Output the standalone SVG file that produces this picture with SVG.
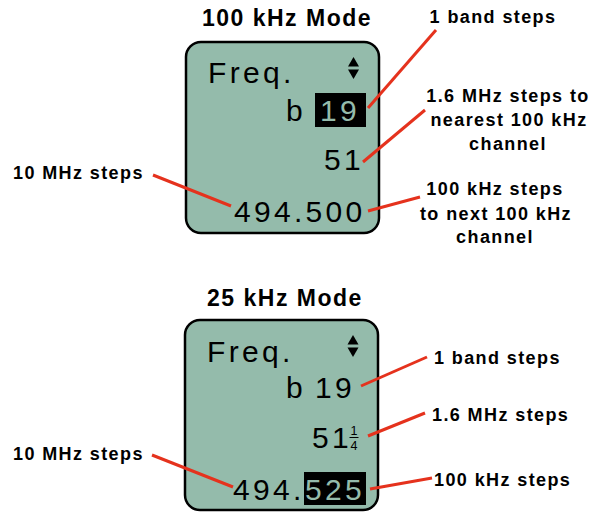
<svg xmlns="http://www.w3.org/2000/svg" width="602" height="512" viewBox="0 0 602 512">
<style>
.title{font-family:"Liberation Sans",Arial,sans-serif;font-weight:bold;font-size:23px;letter-spacing:1.5px;fill:#000;text-anchor:middle}
.lbl{font-family:"Liberation Sans",Arial,sans-serif;font-weight:bold;font-size:18px;letter-spacing:1.4px;fill:#000}
.mid{text-anchor:middle}
.lcd{font-family:"Liberation Sans",Arial,sans-serif;font-size:30px;letter-spacing:3.3px;fill:#000}
.inv{fill:#94bbab}
.box{fill:#94bbab;stroke:#000;stroke-width:2.5}
.frac{font-family:"Liberation Sans",Arial,sans-serif;font-size:12.5px;fill:#000;text-anchor:middle}
.lead{stroke:#e5321d;stroke-width:3;fill:none;stroke-linecap:butt}
</style>
<defs>
<g id="updown">
<polygon points="0,-11 5.5,-1.5 -5.5,-1.5"/>
<polygon points="0,11 5.5,1.5 -5.5,1.5"/>
</g>
</defs>

<g id="mode100">
<text class="title" x="287" y="26">100 kHz Mode</text>
<rect class="box" x="186" y="42" width="193" height="191" rx="15"/>
<text class="lcd" x="208" y="83">Freq.</text>
<use href="#updown" x="353.5" y="68"/>
<text class="lcd" x="286" y="121">b</text>
<rect x="315" y="93" width="51" height="34" fill="#000"/>
<text class="lcd inv" x="320" y="121">19</text>
<text class="lcd" x="324" y="170">51</text>
<text class="lcd" x="234" y="222">494.500</text>
</g>

<g id="labels100">
<text class="lbl mid" x="493" y="23">1 band steps</text>
<text class="lbl mid" x="508" y="102">1.6 MHz steps to</text>
<text class="lbl mid" x="509" y="126">nearest 100 kHz</text>
<text class="lbl mid" x="508" y="150">channel</text>
<text class="lbl mid" x="495" y="195">100 kHz steps</text>
<text class="lbl mid" x="496" y="220">to next 100 kHz</text>
<text class="lbl mid" x="495" y="243">channel</text>
<text class="lbl" x="13" y="179">10 MHz steps</text>
</g>

<g id="mode25">
<text class="title" x="285" y="306">25 kHz Mode</text>
<rect class="box" x="185" y="320" width="193" height="190" rx="15"/>
<text class="lcd" x="207" y="362">Freq.</text>
<use href="#updown" x="353" y="346"/>
<text class="lcd" x="286" y="398">b</text>
<text class="lcd" x="315" y="398">19</text>
<text class="lcd" x="312" y="448">51</text>
<text class="frac" x="354" y="435">1</text>
<line x1="349.5" y1="437.5" x2="358.5" y2="437.5" stroke="#000" stroke-width="1"/>
<text class="frac" x="354" y="450">4</text>
<rect x="304" y="472" width="62" height="33" fill="#000"/>
<text class="lcd" x="233" y="500">494.</text>
<text class="lcd inv" x="305" y="500">525</text>
</g>

<g id="labels25">
<text class="lbl" x="434" y="364">1 band steps</text>
<text class="lbl" x="432" y="421">1.6 MHz steps</text>
<text class="lbl" x="434" y="486">100 kHz steps</text>
<text class="lbl" x="13" y="460">10 MHz steps</text>
</g>

<g id="connectors">
<line class="lead" x1="436" y1="30" x2="368" y2="108"/>
<line class="lead" x1="425" y1="110" x2="363" y2="162"/>
<line class="lead" x1="420" y1="197" x2="368" y2="211"/>
<line class="lead" x1="153" y1="175" x2="231" y2="206"/>
<line class="lead" x1="427" y1="357" x2="361" y2="386"/>
<line class="lead" x1="425" y1="413" x2="368" y2="436"/>
<line class="lead" x1="432" y1="478" x2="370" y2="489"/>
<line class="lead" x1="152" y1="455" x2="233" y2="487"/>
</g>
</svg>
